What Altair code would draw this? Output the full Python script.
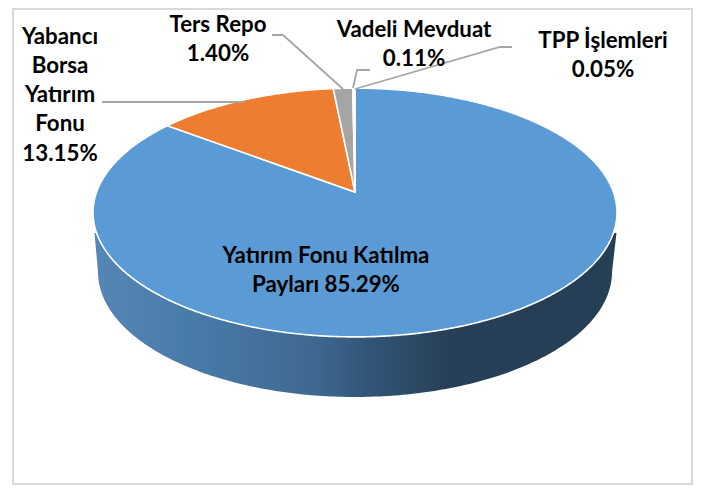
import math
import altair as alt

# ---- data
names = ["Yatırım Fonu Katılma Payları", "Yabancı Borsa Yatırım Fonu", "Ters Repo", "Vadeli Mevduat", "TPP İşlemleri"]
shares = [85.29, 13.15, 1.40, 0.11, 0.05]
colors = ["#5b9bd5", "#ed7d31", "#a5a5a5", "#ffc000", "#4472c4"]
label_texts = [
    "Yatırım Fonu Katılma\nPayları 85.29%",
    "Yabancı\nBorsa\nYatırım\nFonu\n13.15%",
    "Ters Repo\n1.40%",
    "Vadeli Mevduat\n0.11%",
    "TPP İşlemleri\n0.05%",
]

# ---- layout (image pixels)
W, H = 685, 477
OX, OY = 8, 8
CX, CY = 355, 192      # apex of the slices
BX, AY, K = 258.4, 121, 0.165  # perspective of the disc
LOW_CY, LOW_RX, LOW_RY = 272, 257, 125
WALL_TOP = 233
WALL_L, WALL_R = 94.5, 616.5
label_x = [326, 60, 218, 414, 603]
label_top = [255.5, 36.5, 24.5, 29.5, 41]
LINE = 29.3
FONT = "Lato"
FONT_SIZE = 22.3
leaders = [
    [(102, 102), (243, 102)],
    [(272, 35), (283, 35), (343, 89)],
    [(370, 70), (357, 70), (353, 88)],
    [(512, 47), (500, 47), (355, 89)],
]
frame = dict(x=13, x2=692, y=9, y2=484)


def rim(share_pos):
    t = 2 * math.pi * share_pos / 100
    x, y = math.sin(t), math.cos(t)
    d = 1 + K * y
    return (CX + BX * x / d, CY - AY * y / d)


features = []
start = 0.0
for n, s in zip(names, shares):
    steps = max(2, int(s * 8))
    pts = [(CX, CY)] + [rim(start + s * i / steps) for i in range(steps + 1)] + [(CX, CY)]
    features.append({"type": "Feature", "properties": {"name": n},
                     "geometry": {"type": "Polygon", "coordinates": [[list(p) for p in pts]]}})
    start += s

front = sorted([rim(i / 10) for i in range(1000) if rim(i / 10)[1] >= WALL_TOP], key=lambda p: p[0])
low = [(CX + LOW_RX * math.cos(math.pi * i / 200), LOW_CY + LOW_RY * math.sin(math.pi * i / 200)) for i in range(201)]
start_pt = (WALL_L, WALL_TOP)
wall_pts = [start_pt] + front + [(WALL_R, WALL_TOP)] + low + [start_pt]
wall = [{"type": "Feature", "properties": {"name": "wall"},
         "geometry": {"type": "Polygon", "coordinates": [[list(p) for p in wall_pts]]}}]

x_scale = alt.Scale(domain=[OX, OX + W], range=[0, W])
y_scale = alt.Scale(domain=[OY, OY + H], range=[0, H])
proj = dict(type="identity", scale=1, translate=[-OX, -OY])

frame_layer = alt.Chart(alt.Data(values=[frame])).mark_rect(
    fill="white", stroke="#d9d9d9", strokeWidth=2
).encode(
    x=alt.X("x:Q", scale=x_scale, axis=None),
    x2="x2:Q",
    y=alt.Y("y:Q", scale=y_scale, axis=None),
    y2="y2:Q",
)

grad = alt.LinearGradient(
    gradient="linear", x1=0, x2=1, y1=0, y2=0,
    stops=[
        alt.GradientStop(color="#5586b5", offset=0),
        alt.GradientStop(color="#487aa8", offset=0.2),
        alt.GradientStop(color="#3f6890", offset=0.42),
        alt.GradientStop(color="#325678", offset=0.52),
        alt.GradientStop(color="#273f57", offset=0.68),
        alt.GradientStop(color="#253f55", offset=1),
    ],
)
wall_layer = alt.Chart(alt.Data(values=wall)).mark_geoshape(fill=grad, strokeWidth=0).project(**proj)

slices = alt.Chart(alt.Data(values=features)).mark_geoshape(stroke="white", strokeWidth=1.6).encode(
    color=alt.Color("properties.name:N", scale=alt.Scale(domain=names, range=colors), legend=None)
).project(**proj)

leader_rows = [{"g": i, "o": j, "x": p[0], "y": p[1]} for i, l in enumerate(leaders) for j, p in enumerate(l)]
leader_layer = alt.Chart(alt.Data(values=leader_rows)).mark_line(color="#a6a6a6", strokeWidth=1.8).encode(
    x=alt.X("x:Q", scale=x_scale, axis=None),
    y=alt.Y("y:Q", scale=y_scale, axis=None),
    detail="g:N",
    order="o:Q",
)

label_rows = [{"t": t, "x": x, "y": y} for t, x, y in zip(label_texts, label_x, label_top)]
text_layer = alt.Chart(alt.Data(values=label_rows)).mark_text(
    font=FONT, fontSize=FONT_SIZE, fontWeight="bold", color="black", align="center",
    baseline="middle", lineBreak="\n", lineHeight=LINE,
).encode(
    x=alt.X("x:Q", scale=x_scale, axis=None),
    y=alt.Y("y:Q", scale=y_scale, axis=None),
    text="t:N",
)

chart = alt.layer(frame_layer, wall_layer, slices, leader_layer, text_layer).properties(
    width=W, height=H, padding=0, autosize="none", background="white"
).configure_view(stroke=None)

chart.save("out.html", embed_options={"renderer": "svg", "actions": False})
